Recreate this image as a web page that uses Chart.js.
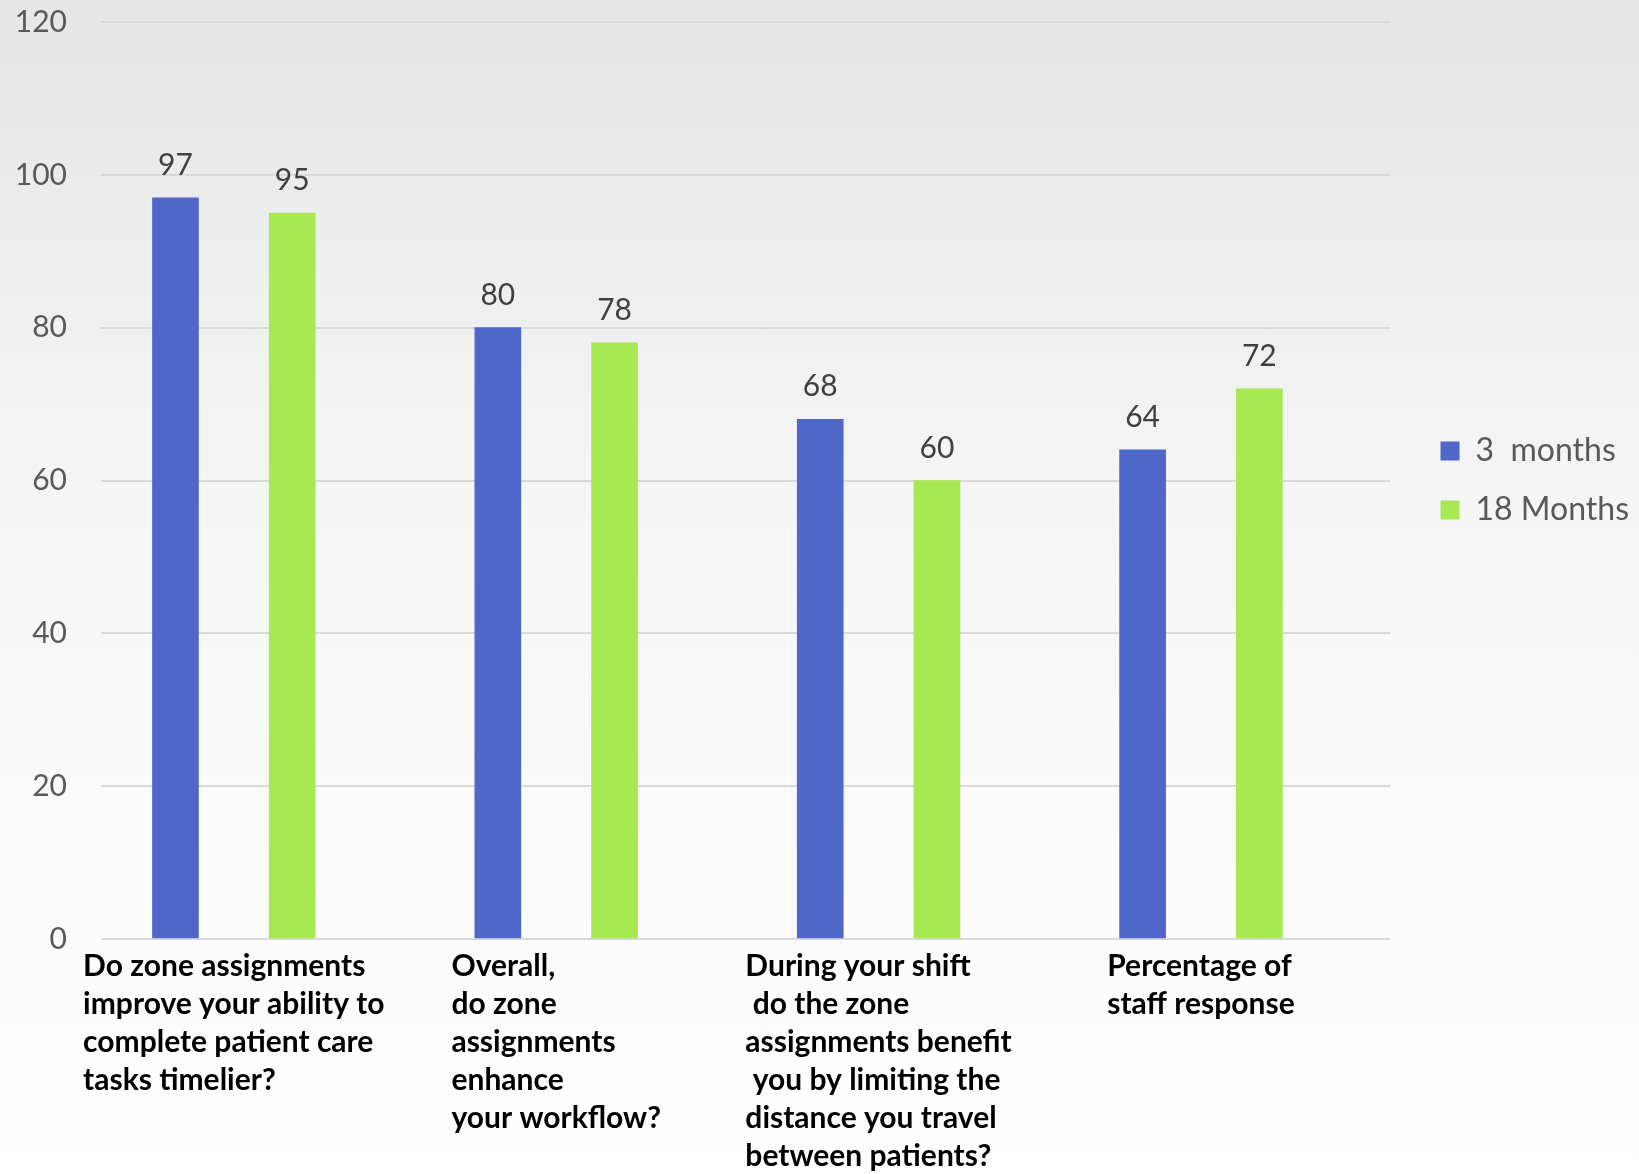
<!DOCTYPE html>
<html>
<head>
<meta charset="utf-8">
<script src="https://cdn.jsdelivr.net/npm/chart.js@4.4.1/dist/chart.umd.min.js"></script>
<style>
  html, body { margin: 0; padding: 0; }
  #wrap {
    width: 1639px;
    height: 1174px;
    background: linear-gradient(to bottom, #e6e6e6 0%, #f6f6f6 45%, #ffffff 100%);
  }
</style>
</head>
<body>
<div id="wrap"><canvas id="chart"></canvas></div>
<script>
const categories = [
    ['Do zone assignments', 'improve your ability to', 'complete patient care', 'tasks timelier?'],
    ['Overall,', 'do zone', 'assignments', 'enhance', 'your workflow?'],
    ['During your shift', ' do the zone', 'assignments benefit', ' you by limiting the', 'distance you travel', 'between patients?'],
    ['Percentage of', 'staff response']
];
const seriesNames = ['3  months', '18 Months'];
const threeMonths = [97, 80, 68, 64];
const eighteenMonths = [95, 78, 60, 72];
const yTicks = [0, 20, 40, 60, 80, 100, 120];

const BLUE = '#4f67c9';
const GREEN = '#a7e952';
const BAR_SHIFT = 0.181;   // half the distance between the two bars of a group, in category units

// value labels above each bar
const barValueLabels = {
    id: 'barValueLabels',
    afterDatasetsDraw(chart) {
        const ctx = chart.ctx;
        ctx.save();
        ctx.font = '30px Lato';
        ctx.fillStyle = '#404040';
        ctx.textAlign = 'center';
        ctx.textBaseline = 'alphabetic';
        chart.data.datasets.forEach((ds, di) => {
            chart.getDatasetMeta(di).data.forEach((bar, i) => {
                ctx.fillText(String(ds.data[i].y), bar.x, bar.y - 23);
            });
        });
        ctx.restore();
    }
};

// category labels: block centred under the group, lines left aligned (like Excel)
const categoryLabels = {
    id: 'categoryLabels',
    afterDraw(chart) {
        const ctx = chart.ctx;
        const xs = chart.scales.x;
        const area = chart.chartArea;
        ctx.save();
        ctx.font = 'bold 30px Lato';
        ctx.fillStyle = '#000000';
        ctx.textAlign = 'left';
        ctx.textBaseline = 'alphabetic';
        categories.forEach((lines, i) => {
            const w = Math.max(...lines.map(l => ctx.measureText(l).width));
            const left = xs.getPixelForValue(i) - w / 2;
            lines.forEach((line, j) => ctx.fillText(line, left, area.bottom + 37 + j * 38));
        });
        ctx.restore();
    }
};

new Chart(document.getElementById('chart'), {
    type: 'bar',
    data: {
        datasets: [
            {
                label: seriesNames[0],
                data: threeMonths.map((v, i) => ({ x: i - BAR_SHIFT, y: v })),
                backgroundColor: BLUE,
                grouped: false,
                barThickness: 46
            },
            {
                label: seriesNames[1],
                data: eighteenMonths.map((v, i) => ({ x: i + BAR_SHIFT, y: v })),
                backgroundColor: GREEN,
                grouped: false,
                barThickness: 46
            }
        ]
    },
    options: {
        responsive: true,
        maintainAspectRatio: false,
        animation: false,
        layout: { padding: { top: 22, bottom: 235, left: 0, right: 0 } },
        scales: {
            x: {
                type: 'linear',
                display: false,
                offset: false,
                min: -0.412,
                max: 3.588
            },
            y: {
                min: yTicks[0],
                max: yTicks[yTicks.length - 1],
                afterBuildTicks: s => { s.ticks = yTicks.map(v => ({ value: v })); },
                afterFit: s => { s.width = 101; s.paddingTop = 0; s.paddingBottom = 0; },
                ticks: {
                    padding: 34,
                    color: '#595959',
                    font: { family: 'Lato', size: 30 }
                },
                grid: { color: '#d9d9d9', lineWidth: 2, drawTicks: false },
                border: { display: false }
            },
            gap: {
                axis: 'y',
                type: 'linear',
                position: 'right',
                grid: { display: false },
                ticks: { display: false },
                border: { display: false },
                afterFit: s => { s.width = 23; }
            }
        },
        plugins: {
            legend: {
                position: 'right',
                fullSize: false,
                labels: {
                    boxWidth: 19,
                    boxHeight: 19,
                    padding: 27,
                    color: '#595959',
                    font: { family: 'Lato', size: 32 }
                }
            },
            tooltip: { enabled: false }
        }
    },
    plugins: [barValueLabels, categoryLabels]
});
</script>
</body>
</html>
